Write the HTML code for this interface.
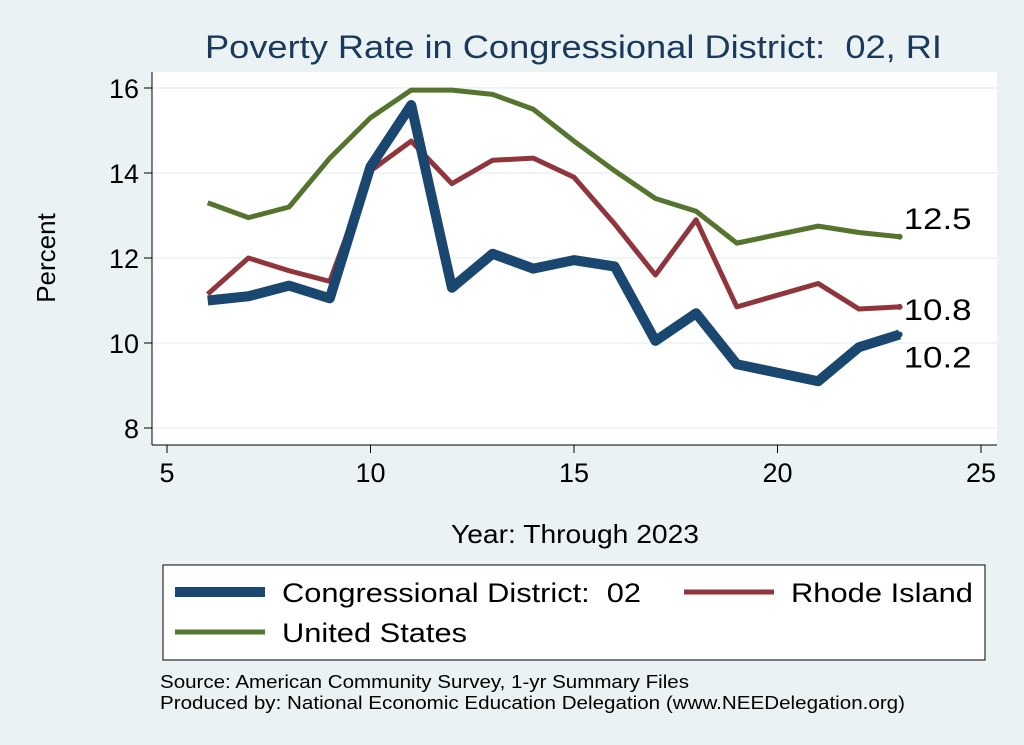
<!DOCTYPE html>
<html><head><meta charset="utf-8"><style>
body{margin:0;background:#eaf2f3;}
svg{display:block;font-family:"Liberation Sans",sans-serif;}
</style></head><body>
<svg id="c" width="1024" height="745">
<rect x="0" y="0" width="1024" height="745" fill="#eaf2f3"/>
<text x="205" y="58" font-size="32" fill="#1a3a5c" textLength="737" lengthAdjust="spacingAndGlyphs">Poverty Rate in Congressional District:&#160; 02, RI</text>
<rect x="152" y="72" width="845" height="373" fill="#fff"/>
<g id="grid"></g><g id="axes"></g><g id="series"></g>
<text transform="translate(55,258) rotate(-90)" font-size="26" text-anchor="middle">Percent</text>
<text x="451" y="543" font-size="26" textLength="248" lengthAdjust="spacingAndGlyphs">Year: Through 2023</text>
<g>
<rect x="163" y="565" width="822" height="95" fill="#fff" stroke="#000" stroke-width="1"/>
<line x1="175" y1="592" x2="265" y2="592" stroke="#1a476f" stroke-width="10"/>
<text x="282" y="602" font-size="27" textLength="359" lengthAdjust="spacingAndGlyphs">Congressional District:&#160; 02</text>
<line x1="684" y1="592" x2="774" y2="592" stroke="#90353b" stroke-width="5"/>
<text x="791" y="602" font-size="27" textLength="182" lengthAdjust="spacingAndGlyphs">Rhode Island</text>
<line x1="175" y1="632" x2="265" y2="632" stroke="#55752f" stroke-width="5"/>
<text x="282" y="642" font-size="27" textLength="185" lengthAdjust="spacingAndGlyphs">United States</text>
</g>
<text x="160" y="688" font-size="18" textLength="529" lengthAdjust="spacingAndGlyphs">Source: American Community Survey, 1-yr Summary Files</text>
<text x="160" y="709" font-size="18" textLength="745" lengthAdjust="spacingAndGlyphs">Produced by: National Economic Education Delegation (www.NEEDelegation.org)</text>
</svg>
<script>
const years=[6,7,8,9,10,11,12,13,14,15,16,17,18,19,21,22,23];
const cdVals=[11.0,11.1,11.35,11.05,14.15,15.6,11.3,12.1,11.75,11.95,11.8,10.05,10.7,9.5,9.1,9.9,10.2];
const riVals=[11.15,12.0,11.7,11.45,14.05,14.75,13.75,14.3,14.35,13.9,12.8,11.6,12.9,10.85,11.4,10.8,10.85];
const usVals=[13.3,12.95,13.2,14.35,15.3,15.95,15.95,15.85,15.5,14.75,14.05,13.4,13.1,12.35,12.75,12.6,12.5];
const xTicks=[5,10,15,20,25];
const yTicks=[8,10,12,14,16];
const NS="http://www.w3.org/2000/svg";
const X=v=>167+(v-5)*(981-167)/20;
const Y=v=>428-(v-8)*(428-88)/8;
function mk(t,a,p){const e=document.createElementNS(NS,t);for(const k in a)e.setAttribute(k,a[k]);p.appendChild(e);return e;}
const g=document.getElementById('grid'),ax=document.getElementById('axes'),s=document.getElementById('series');
mk('line',{x1:152,y1:72,x2:152,y2:445,stroke:'#000'},ax);
mk('line',{x1:152,y1:445,x2:997,y2:445,stroke:'#000'},ax);
yTicks.forEach(v=>{
 const l=mk('line',{x1:152,x2:997,y1:Y(v),y2:Y(v),stroke:'#eaf2f3','stroke-width':1.5},g);
 
 
 mk('line',{x1:144,x2:152,y1:Y(v),y2:Y(v),stroke:'#000'},ax);
 const t=mk('text',{x:139,y:Y(v)+10,'font-size':27,'text-anchor':'end'},ax);t.textContent=v;
 
 
});
xTicks.forEach(v=>{
 mk('line',{x1:X(v),x2:X(v),y1:445,y2:453,stroke:'#000'},ax);
 const t=mk('text',{x:X(v),y:482,'font-size':27,'text-anchor':'middle'},ax);t.textContent=v;
 
 
});
function line(vals,col,w,name,labOff){
 const p=mk('polyline',{points:years.map((y,i)=>X(y)+','+Y(vals[i])).join(' '),fill:'none',stroke:col,'stroke-width':w,'stroke-linejoin':'round'},s);
 
 
 const lv=vals[vals.length-1],lx=X(years[years.length-1]);
 mk('circle',{cx:lx,cy:Y(lv),r:3,fill:col},s);
 const t=mk('text',{x:lx+4,y:Y(lv)+labOff,'font-size':30,textLength:68,lengthAdjust:'spacingAndGlyphs'},s);t.textContent=lv.toFixed(1);
 
 
}
line(usVals,'#55752f',5,'us-line',-8);
line(riVals,'#90353b',5,'ri-line',13);
line(cdVals,'#1a476f',10,'cd-line',33);
</script>
</body></html>
